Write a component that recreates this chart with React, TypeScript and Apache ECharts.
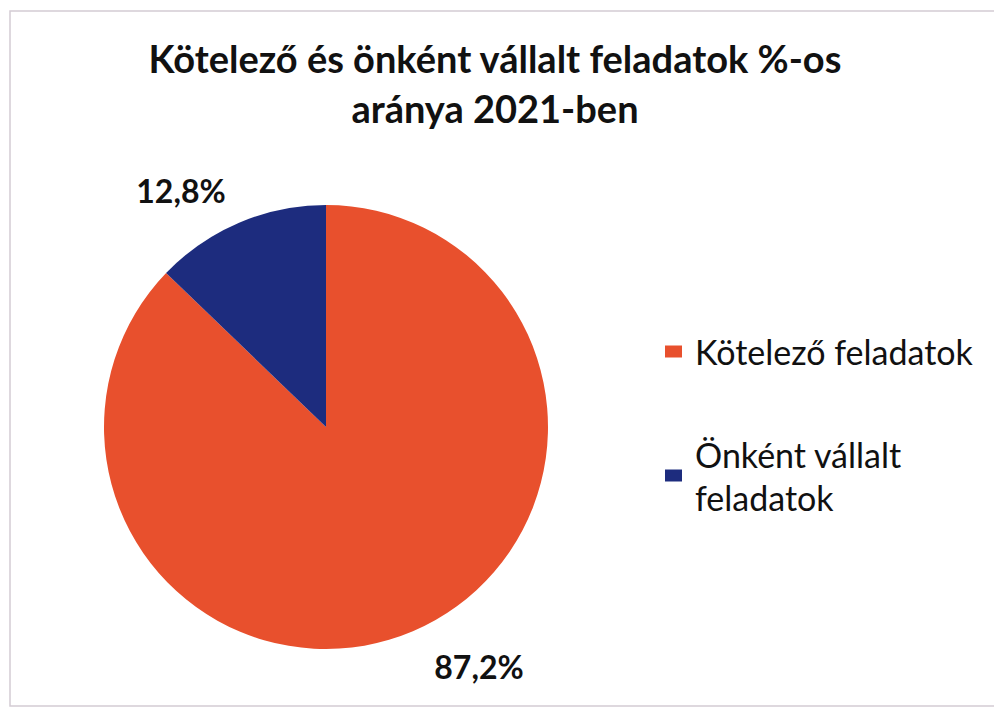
import React, { useEffect, useRef } from "react";
import * as echarts from "echarts";

const titleLines = ["Kötelező és önként vállalt feladatok %-os", "aránya 2021-ben"];
const categories = ["Kötelező feladatok", "Önként vállalt feladatok"];
const legendLabels = ["Kötelező feladatok", "Önként vállalt\nfeladatok"];
const values = [87.2, 12.8];
const colors = ["#E8502D", "#1D2C7E"];

const FONT = "Lato, 'Open Sans', sans-serif";

export default function App() {
  const ref = useRef<HTMLDivElement>(null);
  useEffect(() => {
    if (!ref.current) return;
    const chart = echarts.init(ref.current, null, { renderer: "svg" });
    const labelPos = [
      { x: 479, y: 666 },
      { x: 181, y: 190 },
    ];
    const legendBase = {
      orient: "vertical",
      left: 665,
      padding: 0,
      icon: "rect",
      itemWidth: 17,
      itemHeight: 12,
      selectedMode: false,
      formatter: (name: string) => legendLabels[categories.indexOf(name)],
    };
    chart.setOption({
      animation: false,
      backgroundColor: "#ffffff",
      title: {
        text: titleLines.join("\n"),
        left: 495,
        top: 33,
        textAlign: "center",
        padding: 0,
        textStyle: {
          fontFamily: FONT,
          fontWeight: "bold",
          fontSize: 38,
          lineHeight: 50,
          color: "#111111",
        },
      },
      legend: [
        {
          ...legendBase,
          top: 330,
          data: [categories[0]],
          textStyle: {
            fontFamily: FONT,
            fontSize: 34,
            lineHeight: 43,
            color: "#111111",
            padding: [0, 0, 0, 8],
          },
        },
        {
          ...legendBase,
          top: 411,
          data: [categories[1]],
          textStyle: {
            fontFamily: FONT,
            fontSize: 34,
            lineHeight: 43,
            color: "#111111",
            padding: [43, 0, 0, 8],
          },
        },
      ],
      graphic: [
        {
          type: "rect",
          silent: true,
          shape: { x: 10, y: 11, width: 1000, height: 695 },
          style: { fill: "none", stroke: "#d4ccd4", lineWidth: 1.5 },
        },
      ],
      series: [
        {
          type: "pie",
          center: [326, 427],
          radius: 222,
          startAngle: 90,
          clockwise: true,
          data: categories.map((name, i) => ({
            name,
            value: values[i],
            itemStyle: { color: colors[i] },
          })),
          label: {
            show: true,
            position: "outside",
            fontFamily: FONT,
            fontWeight: "bold",
            fontSize: 32,
            color: "#111111",
            formatter: (p: any) => p.value.toFixed(1).replace(".", ",") + "%",
          },
          labelLine: { show: false },
          labelLayout: (p: any) => ({
            x: labelPos[p.dataIndex].x,
            y: labelPos[p.dataIndex].y,
            align: "center",
            verticalAlign: "middle",
          }),
          emphasis: { disabled: true },
        },
      ],
    });
    return () => chart.dispose();
  }, []);
  return (
    <div
      ref={ref}
      style={{ position: "fixed", left: 0, top: 0, width: 994, height: 708 }}
    />
  );
}
